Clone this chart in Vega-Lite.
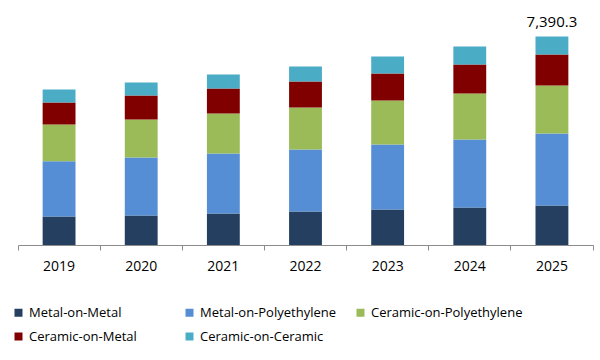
{
  "$schema": "https://vega.github.io/schema/vega-lite/v6.json",
  "autosize": {"type": "none"},
  "width": 575,
  "height": 225,
  "padding": {"left": 18, "top": 20, "right": 7, "bottom": 115},
  "background": "white",
  "config": {"view": {"stroke": null}, "font": "Open Sans"},
  "data": {"values": [
    {"year": "2019", "type": "Metal-on-Metal", "value": 1010},
    {"year": "2019", "type": "Metal-on-Polyethylene", "value": 1960},
    {"year": "2019", "type": "Ceramic-on-Polyethylene", "value": 1301},
    {"year": "2019", "type": "Ceramic-on-Metal", "value": 780},
    {"year": "2019", "type": "Ceramic-on-Ceramic", "value": 461},
    {"year": "2020", "type": "Metal-on-Metal", "value": 1046},
    {"year": "2020", "type": "Metal-on-Polyethylene", "value": 2056},
    {"year": "2020", "type": "Ceramic-on-Polyethylene", "value": 1347},
    {"year": "2020", "type": "Ceramic-on-Metal", "value": 851},
    {"year": "2020", "type": "Ceramic-on-Ceramic", "value": 461},
    {"year": "2021", "type": "Metal-on-Metal", "value": 1117},
    {"year": "2021", "type": "Metal-on-Polyethylene", "value": 2127},
    {"year": "2021", "type": "Ceramic-on-Polyethylene", "value": 1418},
    {"year": "2021", "type": "Ceramic-on-Metal", "value": 886},
    {"year": "2021", "type": "Ceramic-on-Ceramic", "value": 496},
    {"year": "2022", "type": "Metal-on-Metal", "value": 1188},
    {"year": "2022", "type": "Metal-on-Polyethylene", "value": 2198},
    {"year": "2022", "type": "Ceramic-on-Polyethylene", "value": 1489},
    {"year": "2022", "type": "Ceramic-on-Metal", "value": 922},
    {"year": "2022", "type": "Ceramic-on-Ceramic", "value": 532},
    {"year": "2023", "type": "Metal-on-Metal", "value": 1258},
    {"year": "2023", "type": "Metal-on-Polyethylene", "value": 2304},
    {"year": "2023", "type": "Ceramic-on-Polyethylene", "value": 1560},
    {"year": "2023", "type": "Ceramic-on-Metal", "value": 957},
    {"year": "2023", "type": "Ceramic-on-Ceramic", "value": 603},
    {"year": "2024", "type": "Metal-on-Metal", "value": 1329},
    {"year": "2024", "type": "Metal-on-Polyethylene", "value": 2411},
    {"year": "2024", "type": "Ceramic-on-Polyethylene", "value": 1631},
    {"year": "2024", "type": "Ceramic-on-Metal", "value": 1028},
    {"year": "2024", "type": "Ceramic-on-Ceramic", "value": 638},
    {"year": "2025", "type": "Metal-on-Metal", "value": 1400},
    {"year": "2025", "type": "Metal-on-Polyethylene", "value": 2552},
    {"year": "2025", "type": "Ceramic-on-Polyethylene", "value": 1702},
    {"year": "2025", "type": "Ceramic-on-Metal", "value": 1099},
    {"year": "2025", "type": "Ceramic-on-Ceramic", "value": 637.3}
  ]},
  "resolve": {"axis": {"x": "independent"}},
  "layer": [
    {
      "mark": {"type": "bar", "width": {"band": 0.4}},
      "encoding": {
        "x": {"field": "year", "type": "nominal",
          "scale": {"paddingInner": 0, "paddingOuter": 0},
          "axis": {"orient": "bottom", "title": null, "domain": false, "ticks": false, "tickSize": 0, "labelAngle": 0,
            "labelFontSize": 14, "labelColor": "#000000", "labelPadding": 14, "labelFont": "Open Sans"}},
        "y": {"field": "value", "type": "quantitative", "stack": "zero",
          "scale": {"domain": [0, 7975], "nice": false, "zero": true}, "axis": null},
        "color": {"field": "type", "type": "nominal",
          "sort": ["Metal-on-Metal", "Metal-on-Polyethylene", "Ceramic-on-Polyethylene", "Ceramic-on-Metal", "Ceramic-on-Ceramic"],
          "scale": {"domain": ["Metal-on-Metal", "Metal-on-Polyethylene", "Ceramic-on-Polyethylene", "Ceramic-on-Metal", "Ceramic-on-Ceramic"],
            "range": ["#243f60", "#558ed5", "#9bbb59", "#800000", "#4bacc6"]},
          "legend": {"title": null, "orient": "none", "legendX": -6, "legendY": 286, "direction": "horizontal",
            "columns": 3, "gridAlign": "all", "columnPadding": 2, "rowPadding": 10, "padding": 0,
            "symbolType": "square", "symbolSize": 64, "symbolStrokeWidth": 0, "labelOffset": 4,
            "labelFontSize": 13, "labelFont": "Open Sans", "labelColor": "#000000", "labelLimit": 300}},
        "order": {"field": "order_none", "type": "quantitative"}
      }
    },
    {
      "transform": [
        {"filter": "datum.year == '2025'"},
        {"aggregate": [{"op": "sum", "field": "value", "as": "total"}], "groupby": ["year"]}
      ],
      "mark": {"type": "text", "baseline": "alphabetic", "dy": -9, "fontSize": 15, "font": "Open Sans", "color": "#000000"},
      "encoding": {
        "x": {"field": "year", "type": "nominal",
          "axis": {"orient": "bottom", "title": null, "labels": false, "domain": true, "domainColor": "#8c8c8c", "ticks": true,
            "tickColor": "#8c8c8c", "tickSize": 5, "bandPosition": 1, "tickExtra": true}},
        "y": {"field": "total", "type": "quantitative"},
        "text": {"field": "total", "type": "quantitative", "format": ",.1f"}
      }
    }
  ]
}
